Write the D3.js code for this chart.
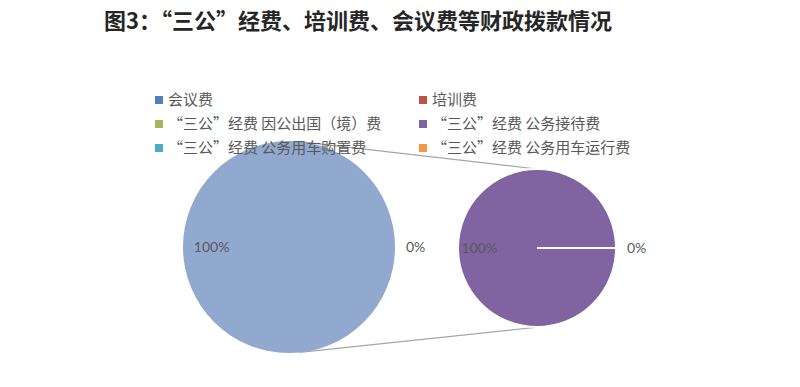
<!DOCTYPE html>
<html>
<head>
<meta charset="utf-8">
<script src="https://cdn.jsdelivr.net/npm/d3@7"></script>
<style>
  body { margin: 0; background: #fff; }
  svg { display: block; }
</style>
</head>
<body>
<div id="chart"></div>
<script>
"use strict";

// chart data
var title = "图3：“三公”经费、培训费、会议费等财政拨款情况";
var categories = ["会议费", "培训费", "“三公”经费 因公出国（境）费", "“三公”经费 公务接待费", "“三公”经费 公务用车购置费", "“三公”经费 公务用车运行费"];
var colors = ["#4F81BD", "#C0504D", "#9BBB59", "#8064A2", "#4BACC6", "#F79646"];
// values (share of total, %)
var values = [0, 0, 0, 100, 0, 0];
// which categories go into the second (small) pie
var secondPlot = [3, 5];

var width = 800, height = 387;

var svg = d3.select("#chart").append("svg")
    .attr("width", width)
    .attr("height", height);

svg.append("rect").attr("width", width).attr("height", height).attr("fill", "#fff");

// main pie: categories not in the second plot + "other"
var otherValue = d3.sum(secondPlot, function(i) { return values[i]; });
var mainData = [{ name: "其他", value: otherValue, color: "#91A9CE" }];
values.forEach(function(v, i) {
    if (secondPlot.indexOf(i) < 0 && v > 0) mainData.push({ name: categories[i], value: v, color: colors[i] });
});
// zero slice that still gets a label
mainData.push({ name: categories[0], value: values[0], color: colors[0] });

var subData = secondPlot.map(function(i) {
    return { name: categories[i], value: values[i], color: colors[i] };
});

var mainC = { x: 289, y: 247, r: 106 };
var subC = { x: 537, y: 248, r: 79 };

var pie = d3.pie()
    .sort(null)
    .value(function(d) { return d.value; })
    .startAngle(Math.PI / 2)
    .endAngle(Math.PI / 2 + 2 * Math.PI);

// connector lines
var tilt = 0.1;
var connectors = [
    [[mainC.x + mainC.r * Math.sin(tilt), mainC.y - mainC.r * Math.cos(tilt)], [subC.x, subC.y - subC.r]],
    [[mainC.x + mainC.r * Math.sin(tilt), mainC.y + mainC.r * Math.cos(tilt)], [subC.x + 2, subC.y + subC.r]]
];
svg.selectAll(".conn")
    .data(connectors)
    .enter().append("path")
    .attr("class", "conn")
    .attr("d", d3.line())
    .attr("stroke", "#A6A6A6")
    .attr("stroke-width", 1.2)
    .attr("fill", "none");

function drawPie(c, data, strokeColor) {
    var g = svg.append("g").attr("transform", "translate(" + c.x + "," + c.y + ")");
    var arc = d3.arc().innerRadius(0).outerRadius(c.r);
    var arcs = pie(data);
    g.selectAll("path.slice")
        .data(arcs)
        .enter().append("path")
        .attr("class", "slice")
        .attr("d", arc)
        .attr("fill", function(d) { return d.data.color; })
        .attr("stroke", strokeColor)
        .attr("stroke-width", 2);

    var sum = d3.sum(data, function(d) { return d.value; });
    g.selectAll("text.lbl")
        .data(arcs)
        .enter().append("text")
        .attr("class", "lbl")
        .attr("x", function(d) {
            var mid = (d.startAngle + d.endAngle) / 2;
            if (d.value === 0) return c.r + 11;
            return Math.sin(mid) * c.r * 0.73;
        })
        .attr("y", function(d) {
            var mid = (d.startAngle + d.endAngle) / 2;
            if (d.value === 0) return 5;
            return -Math.cos(mid) * c.r * 0.73 + 5;
        })
        .attr("text-anchor", function(d) { return d.value === 0 ? "start" : "middle"; })
        .attr("font-family", "Lato, 'Liberation Sans', sans-serif")
        .attr("font-size", 14)
        .attr("fill", "#595959")
        .text(function(d) { return d3.format(".0%")(sum ? d.value / sum : 0); });
}

drawPie(mainC, mainData, "none");
drawPie(subC, subData, "#fff");

// legend, two columns
var legend = svg.append("g")
    .attr("font-family", "'Noto Sans CJK SC', sans-serif")
    .attr("font-size", 15)
    .attr("fill", "#595959");

var item = legend.selectAll("g")
    .data(categories)
    .enter().append("g")
    .attr("transform", function(d, i) {
        var x = i % 2 === 0 ? 155 : 419;
        var y = 100 + Math.floor(i / 2) * 24;
        return "translate(" + x + "," + y + ")";
    });

item.append("rect")
    .attr("x", 0).attr("y", -4)
    .attr("width", 8).attr("height", 8)
    .attr("fill", function(d, i) { return colors[i]; });

item.append("text")
    .attr("x", 13)
    .attr("y", 5)
    .text(function(d) { return d; });

// title
svg.append("text")
    .attr("x", 358)
    .attr("y", 29)
    .attr("text-anchor", "middle")
    .attr("font-family", "'Noto Sans CJK SC', sans-serif")
    .attr("font-weight", "bold")
    .attr("font-size", 22)
    .attr("fill", "#262626")
    .text(title);
</script>
</body>
</html>
